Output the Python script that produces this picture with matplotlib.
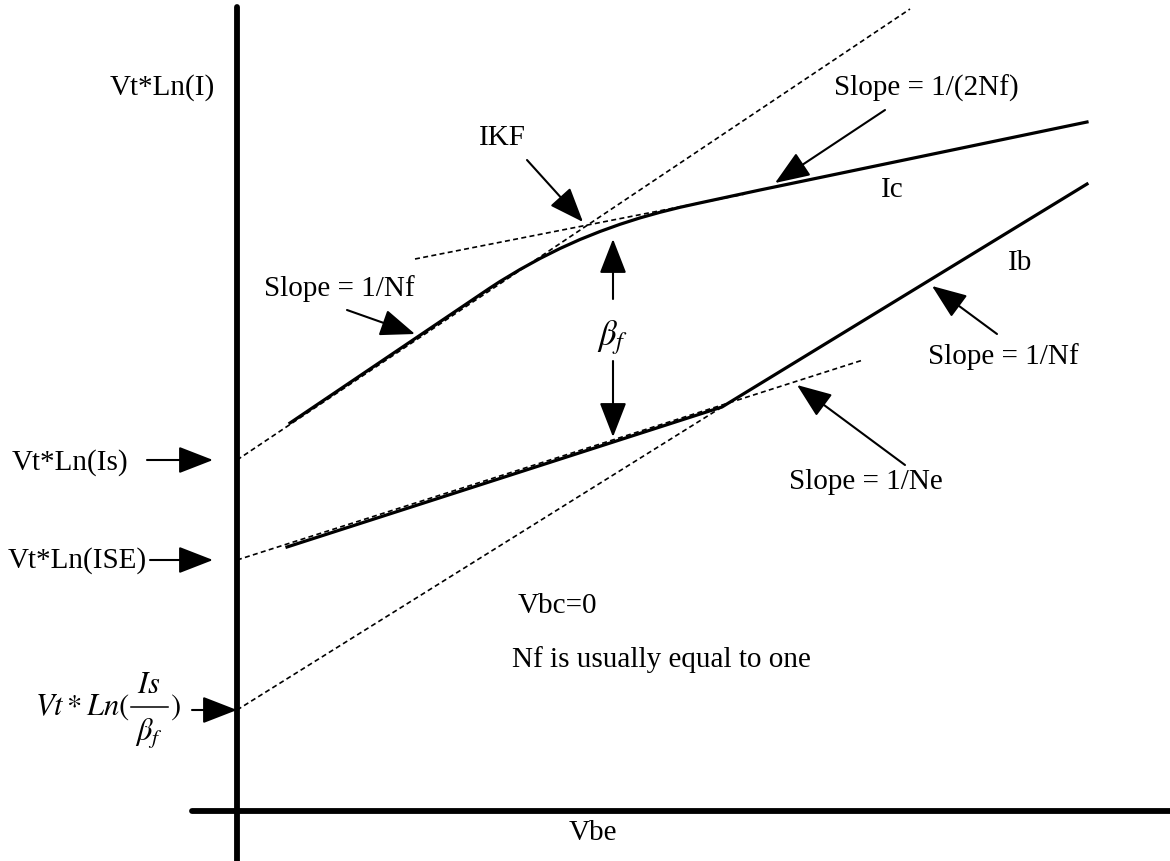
import matplotlib.pyplot as plt

# Gummel plot sketch, drawn in picture coordinates (x right, y down)

plt.rcParams['font.family'] = ['Liberation Serif', 'DejaVu Serif']
plt.rcParams['mathtext.fontset'] = 'stix'

# --------------------------------
# Data
# --------------------------------
# axes
yaxis_x = [237, 237]
yaxis_y = [8, 862]
xaxis_x = [192, 1170]
xaxis_y = [812, 812]

# collector current Ic (solid)
ic_x = [290, 490, 500, 520, 540, 560, 580, 600, 620, 640, 660, 680, 700, 760, 1087]
ic_y = [424, 289, 282.5, 270.5, 259.5, 249.5, 240.5, 232.5, 225.3, 218.9, 213.3,
        208.3, 203.9, 191, 123]

# base current Ib (solid)
ib_x = [287, 722, 1087]
ib_y = [548, 408, 185]

# asymptotes (dashed)
nf_ic_x = [237, 910]
nf_ic_y = [461, 10]
ikf_x = [415, 745]
ikf_y = [260, 195]
ne_x = [237, 863]
ne_y = [561, 361]
nf_ib_x = [237, 722]
nf_ib_y = [711, 408]

# text labels: (x, y, text, ha)
labels = [
    (215, 88, "Vt*Ln(I)", "right"),
    (12, 463, "Vt*Ln(Is)", "left"),
    (8, 561, "Vt*Ln(ISE)", "left"),
    (339, 289, "Slope = 1/Nf", "center"),
    (502, 138, "IKF", "center"),
    (926, 88, "Slope = 1/(2Nf)", "center"),
    (892, 190, "Ic", "center"),
    (1020, 263, "Ib", "center"),
    (1003, 357, "Slope = 1/Nf", "center"),
    (866, 482, "Slope = 1/Ne", "center"),
    (557, 606, "Vbc=0", "center"),
    (512, 660, "Nf is usually equal to one", "left"),
    (593, 833, "Vbe", "center"),
]

# pointer arrows: (tail x, tail y, tip x, tip y)
arrows = [
    (147, 461, 213, 461),
    (150, 561, 213, 561),
    (192, 711, 237, 711),
    (347, 311, 415, 335),
    (527, 161, 583, 223),
    (885, 111, 775, 184),
    (997, 335, 932, 287),
    (905, 466, 797, 386),
    (613, 300, 613, 240),
    (613, 362, 613, 438),
]

# Vt*Ln(Is/beta_f) label pieces
frac_bar_x = [131, 168]
frac_bar_y = [708, 708]

# --------------------------------
# Plot
# --------------------------------
fig = plt.figure(figsize=(11.7, 8.62), dpi=100)
ax = fig.add_axes([0, 0, 1, 1])
ax.set_xlim(0, 1170)
ax.set_ylim(862, 0)
ax.axis("off")

ax.plot(yaxis_x, yaxis_y, color="k", lw=4.2, solid_capstyle="round")
ax.plot(xaxis_x, xaxis_y, color="k", lw=4.2, solid_capstyle="round")

dash = dict(color="k", lw=1.2, dashes=(3, 2))
ax.plot(nf_ic_x, nf_ic_y, **dash)
ax.plot(ikf_x, ikf_y, **dash)
ax.plot(ne_x, ne_y, **dash)
ax.plot(nf_ib_x, nf_ib_y, **dash)

ax.plot(ic_x, ic_y, color="k", lw=2.3, solid_joinstyle="round")
ax.plot(ib_x, ib_y, color="k", lw=2.3, solid_joinstyle="round")

for x, y, s, ha in labels:
    ax.text(x, y, s, fontsize=21, ha=ha, va="center")

ax.text(613, 338, r"$\beta_f$", fontsize=25, ha="center", va="center")

# fraction label on the axis
ax.text(130, 707, r"$Vt*Ln($", fontsize=22, ha="right", va="center")
ax.text(149, 686, r"$Is$", fontsize=22, ha="center", va="center")
ax.plot(frac_bar_x, frac_bar_y, color="k", lw=1.1)
ax.text(149, 734, r"$\beta_f$", fontsize=22, ha="center", va="center")
ax.text(170, 707, r"$)$", fontsize=22, ha="left", va="center")

for x0, y0, x1, y1 in arrows:
    ax.annotate("", xy=(x1, y1), xytext=(x0, y0),
                arrowprops=dict(arrowstyle="-|>,head_length=0.9,head_width=0.35",
                                color="k", lw=1.5, shrinkA=0, shrinkB=0,
                                mutation_scale=24))

fig.savefig("out.png", dpi=100)
